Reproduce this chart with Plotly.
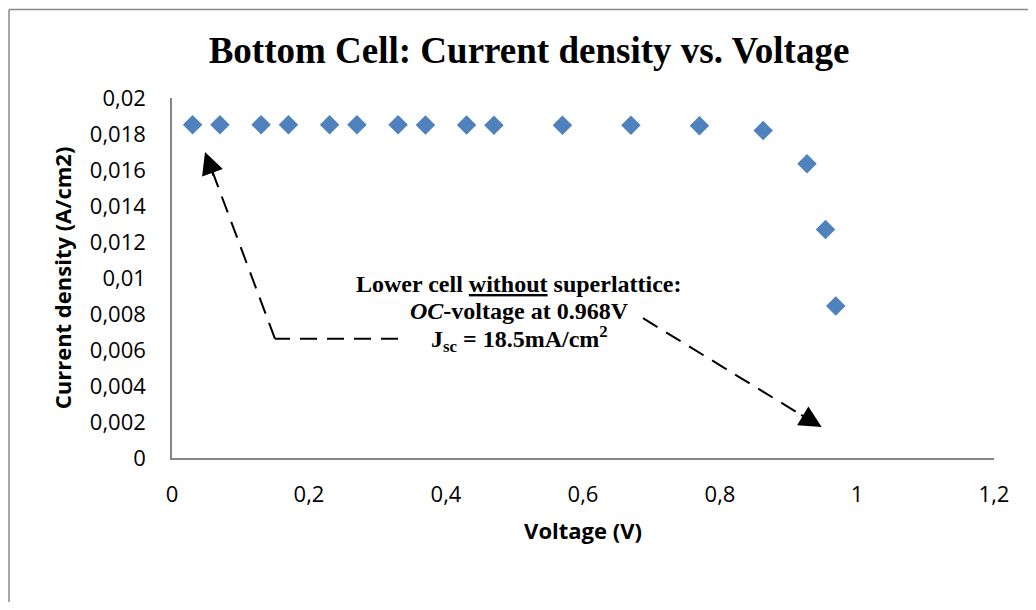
import plotly.graph_objects as go

# ---- data ----
voltage = [0.03, 0.07, 0.13, 0.17, 0.23, 0.27, 0.33, 0.37, 0.43, 0.47,
           0.57, 0.67, 0.77, 0.863, 0.927, 0.954, 0.969]
current_density = [0.01852, 0.01852, 0.01852, 0.01851, 0.01851, 0.01851, 0.01851, 0.01850, 0.01850, 0.01849,
                   0.01849, 0.01848, 0.01846, 0.01820, 0.01635, 0.01270, 0.00845]

x_tick_vals = [0, 0.2, 0.4, 0.6, 0.8, 1.0, 1.2]
x_tick_text = ["0", "0,2", "0,4", "0,6", "0,8", "1", "1,2"]
y_tick_vals = [0, 0.002, 0.004, 0.006, 0.008, 0.01, 0.012, 0.014, 0.016, 0.018, 0.02]
y_tick_text = ["0", "0,002", "0,004", "0,006", "0,008", "0,01", "0,012", "0,014", "0,016", "0,018", "0,02"]

title_text = "Bottom Cell: Current density vs. Voltage"
x_title = "Voltage (V)"
y_title = "Current density (A/cm2)"
note_lines = ["Lower cell <u>without</u> superlattice:",
              "<i>OC</i>-voltage at 0.968V",
              "J<sub>sc</sub> = 18.5mA/cm<sup>2</sup>"]

# ---- figure ----
OFF = 8  # page body margin: figure is drawn 8px right/down inside the window
WIN_W, WIN_H = 1036, 610
W, H = WIN_W - 2 * OFF, WIN_H - 2 * OFF  # fit inside the window incl. body margins, no scrollbars
# plot area in window pixels: x 172..994, y 97.5..458
L = 172 - OFF
T = 97.5 - OFF
R = W - (994 - OFF)
B = H - (458 - OFF)
pw, ph = W - L - R, H - T - B

def px_x(p):  # window pixel -> paper
    return (p - OFF - L) / pw

def px_y(p):
    return (H - B - (p - OFF)) / ph

fig = go.Figure()
fig.add_trace(go.Scatter(
    x=voltage, y=current_density, mode="markers",
    marker=dict(symbol="diamond", size=15, color="#4F81BD", line=dict(width=0)),
    showlegend=False, hoverinfo="x+y"))

axis_font = dict(family="Open Sans, Arial, sans-serif", size=22, color="#000000")
title_font = dict(family="Open Sans, Arial, sans-serif", size=22, color="#000000")

fig.update_layout(
    width=W, height=H,
    margin=dict(l=L, r=R, t=T, b=B, autoexpand=False),
    paper_bgcolor="white", plot_bgcolor="white",
    title=dict(text="<b>" + title_text + "</b>", x=px_x(529), xref="paper", xanchor="center",
               y=1 - (50 - OFF) / H, yref="container", yanchor="middle",
               font=dict(family="Liberation Serif, Times New Roman, serif", size=37, color="#000000")),
    xaxis=dict(range=[0, 1.2], tickvals=x_tick_vals, ticktext=x_tick_text,
               showgrid=False, zeroline=False, showline=True, linecolor="#868686", linewidth=1.5,
               ticks="", ticklabelstandoff=16, tickfont=axis_font,
               title=dict(text="<b>" + x_title + "</b>", font=title_font, standoff=16)),
    yaxis=dict(range=[0, 0.02], tickvals=y_tick_vals, ticktext=y_tick_text,
               showgrid=False, zeroline=False, showline=True, linecolor="#868686", linewidth=1.5,
               ticks="", ticklabelstandoff=20, tickfont=axis_font,
               title=dict(text="<b>" + y_title + "</b>", font=title_font, standoff=12)),
)

# outer chart frame (top and left edges visible), at the figure's top-left edge
frame_col = "#8a8a8a"
fig.add_shape(type="line", xref="paper", yref="paper", x0=px_x(9), x1=px_x(1050), y0=px_y(9), y1=px_y(9),
              line=dict(color=frame_col, width=1.5))
fig.add_shape(type="line", xref="paper", yref="paper", x0=px_x(9), x1=px_x(9), y0=px_y(9), y1=px_y(625),
              line=dict(color=frame_col, width=1.5))

# dashed arrows (annotation drawing, positioned in pixels)
dash = dict(color="black", width=2, dash="17px,10px")
# arrow 1: from text to the Jsc points
a1 = [(398, 338.7), (275, 338.7), (212, 170)]
for (xa, ya), (xb, yb) in zip(a1[:-1], a1[1:]):
    fig.add_shape(type="line", xref="paper", yref="paper",
                  x0=px_x(xa), y0=px_y(ya), x1=px_x(xb), y1=px_y(yb), line=dash)
fig.add_annotation(xref="paper", yref="paper", x=px_x(205), y=px_y(151.7), ax=9, ay=25,
                   text="", showarrow=True, arrowhead=2, arrowsize=2.2, arrowwidth=2, arrowcolor="black")
# arrow 2: from text to the OC-voltage region
fig.add_shape(type="line", xref="paper", yref="paper",
              x0=px_x(643), y0=px_y(318), x1=px_x(803), y1=px_y(416), line=dash)
fig.add_annotation(xref="paper", yref="paper", x=px_x(821.7), y=px_y(427), ax=-22, ay=-13,
                   text="", showarrow=True, arrowhead=2, arrowsize=2.2, arrowwidth=2, arrowcolor="black")

# annotation text
note_font = dict(family="Liberation Serif, Times New Roman, serif", size=24, color="#000000")
for line, ypix in zip(note_lines, [284, 311, 339]):
    fig.add_annotation(xref="paper", yref="paper", x=px_x(519), y=px_y(ypix),
                       xanchor="center", yanchor="middle", showarrow=False,
                       text="<b>" + line + "</b>", font=note_font)

fig.write_html("out.html")
